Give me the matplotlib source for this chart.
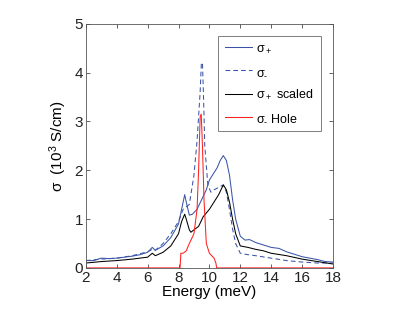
import matplotlib
matplotlib.use("Agg")
import matplotlib.pyplot as plt
import numpy as np

plt.rcParams['font.family'] = ['Liberation Sans', 'DejaVu Sans']
plt.rcParams['mathtext.default'] = 'regular'
plt.rcParams['mathtext.fontset'] = 'custom'
plt.rcParams['mathtext.rm'] = 'Liberation Sans'

# sigma+ (blue solid)
sp_x = [2, 2.5, 3, 3.5, 4, 4.5, 5, 5.5, 6, 6.3, 6.5, 7, 7.5, 8, 8.2, 8.4, 8.5, 8.7, 8.9, 9.2, 9.5, 9.8, 10.0, 10.3, 10.5, 10.7, 10.9, 11.1, 11.3, 11.5, 11.7, 12.0, 12.3, 12.6, 13, 13.5, 14, 14.5, 15, 15.5, 16, 16.5, 17, 17.5, 18]
sp_y = [0.15, 0.15, 0.2, 0.19, 0.2, 0.22, 0.24, 0.27, 0.32, 0.42, 0.36, 0.45, 0.62, 0.9, 1.2, 1.5, 1.35, 1.08, 1.1, 1.2, 1.4, 1.6, 1.8, 1.95, 2.05, 2.2, 2.3, 2.2, 1.9, 1.4, 1.0, 0.65, 0.57, 0.58, 0.52, 0.47, 0.42, 0.4, 0.33, 0.28, 0.23, 0.2, 0.17, 0.13, 0.12]

# sigma- (blue dashed)
sm_x = [2, 3, 4, 5, 6, 6.3, 6.5, 7, 7.5, 8, 8.3, 8.5, 8.7, 9.0, 9.2, 9.4, 9.48, 9.55, 9.62, 9.7, 9.9, 10.1, 10.3, 10.6, 10.9, 11.1, 11.3, 11.5, 11.7, 12, 12.5, 13, 14, 15, 16, 17, 18]
sm_y = [0.15, 0.18, 0.2, 0.25, 0.33, 0.38, 0.36, 0.5, 0.7, 0.95, 1.2, 1.25, 1.3, 1.9, 2.6, 3.6, 4.2, 4.2, 3.5, 2.5, 1.7, 1.55, 1.6, 1.65, 1.7, 1.55, 1.2, 0.8, 0.5, 0.3, 0.27, 0.25, 0.2, 0.15, 0.12, 0.1, 0.1]

# sigma+ scaled (black)
ss_x = [2, 3, 4, 5, 6, 6.3, 6.5, 7, 7.5, 8, 8.2, 8.4, 8.5, 8.7, 8.8, 9, 9.3, 9.6, 10, 10.3, 10.6, 10.9, 11.1, 11.3, 11.5, 11.7, 12, 12.5, 13, 13.5, 14, 15, 16, 17, 18]
ss_y = [0.1, 0.13, 0.15, 0.18, 0.22, 0.3, 0.25, 0.32, 0.45, 0.7, 0.95, 1.1, 1.0, 0.78, 0.73, 0.78, 0.85, 1.05, 1.2, 1.35, 1.5, 1.7, 1.6, 1.35, 1.0, 0.7, 0.45, 0.42, 0.38, 0.35, 0.3, 0.25, 0.18, 0.13, 0.08]

# sigma- Hole (red)
sh_x = [2, 8.1, 8.15, 8.3, 8.5, 8.7, 9.0, 9.2, 9.3, 9.4, 9.47, 9.55, 9.65, 9.8, 10.0, 10.3, 10.42, 10.47, 18]
sh_y = [0, 0, 0.3, 0.3, 0.35, 0.5, 0.7, 1.2, 2.0, 3.1, 3.15, 2.5, 1.4, 0.5, 0.3, 0.2, 0.1, 0, 0]

labels = ['σ$_+$', 'σ$_‐$', 'σ$_+$ scaled', 'σ$_‐$ Hole']

fig = plt.figure(figsize=(4.07, 3.09), dpi=100)
ax = fig.add_axes([0.211, 0.133, 0.607, 0.79])

blue = '#3a55a8'
lw = 0.75
ax.plot(sp_x, sp_y, color=blue, lw=lw, label=labels[0])
ax.plot(sm_x, sm_y, color=blue, lw=lw, ls=(0, (4.5, 3)), label=labels[1])
ax.plot(ss_x, ss_y, color='black', lw=lw, label=labels[2])
ax.plot(sh_x, sh_y, color='#ff2020', lw=lw, label=labels[3])

ax.set_xlim(2, 18)
ax.set_ylim(0, 5)
ax.set_xticks(np.arange(2, 19, 2))
ax.set_yticks(np.arange(0, 6, 1))
ax.tick_params(direction='in', top=True, right=True, labelsize=11, length=3, width=0.5, pad=2, colors='#222222')
for s in ax.spines.values():
    s.set_linewidth(0.6)
    s.set_color('#555555')

ax.set_xlabel('Energy (meV)', fontsize=11, labelpad=0)
ax.set_ylabel('σ  (10$^3$ S/cm)', fontsize=11, labelpad=4)

leg = ax.legend(loc='upper right', bbox_to_anchor=(0.95, 0.95), borderaxespad=0,
                prop={'size': 9}, frameon=True, fancybox=False, handlelength=2.2,
                labelspacing=0.85, handletextpad=0.3, borderpad=0.55)
leg.get_frame().set_edgecolor('#444444')
leg.get_frame().set_linewidth(0.6)

fig.savefig('out.png', dpi=100)
